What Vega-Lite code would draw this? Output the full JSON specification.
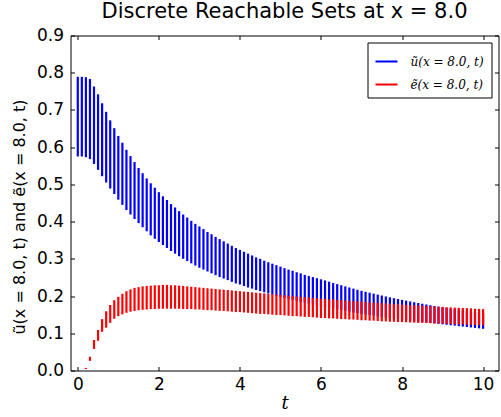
{
  "$schema": "https://vega.github.io/schema/vega-lite/v6.json",
  "width": 428,
  "height": 335,
  "autosize": "none",
  "padding": {"left": 70.5, "top": 35.5, "right": 2.5, "bottom": 46.5},
  "background": "white",
  "config": {
    "view": {"stroke": "black", "strokeWidth": 1},
    "axis": {
      "domain": false,
      "grid": false,
      "tickSize": -4,
      "tickColor": "black",
      "tickWidth": 1,
      "labelFont": "DejaVu Sans",
      "labelFontSize": 17,
      "labelColor": "black",
      "titleColor": "black",
      "titleFontWeight": "normal"
    }
  },
  "title": {
    "text": "Discrete Reachable Sets at x = 8.0",
    "font": "DejaVu Sans",
    "fontSize": 21,
    "fontWeight": "normal",
    "color": "black",
    "offset": 8,
    "dy": 3
  },
  "datasets": {
    "blue": [
      {"t":0.0,"s":"u","lo":0.575,"hi":0.789},{"t":0.1,"s":"u","lo":0.575,"hi":0.789},{"t":0.2,"s":"u","lo":0.573,"hi":0.788},{"t":0.3,"s":"u","lo":0.568,"hi":0.783},{"t":0.4,"s":"u","lo":0.555,"hi":0.763},
      {"t":0.5,"s":"u","lo":0.539,"hi":0.742},{"t":0.6,"s":"u","lo":0.522,"hi":0.718},{"t":0.7,"s":"u","lo":0.505,"hi":0.695},{"t":0.8,"s":"u","lo":0.489,"hi":0.672},{"t":0.9,"s":"u","lo":0.474,"hi":0.651},
      {"t":1.0,"s":"u","lo":0.459,"hi":0.630},{"t":1.1,"s":"u","lo":0.445,"hi":0.612},{"t":1.2,"s":"u","lo":0.431,"hi":0.593},{"t":1.3,"s":"u","lo":0.419,"hi":0.576},{"t":1.4,"s":"u","lo":0.407,"hi":0.560},
      {"t":1.5,"s":"u","lo":0.396,"hi":0.544},{"t":1.6,"s":"u","lo":0.385,"hi":0.530},{"t":1.7,"s":"u","lo":0.374,"hi":0.516},{"t":1.8,"s":"u","lo":0.363,"hi":0.503},{"t":1.9,"s":"u","lo":0.354,"hi":0.491},
      {"t":2.0,"s":"u","lo":0.345,"hi":0.479},{"t":2.1,"s":"u","lo":0.337,"hi":0.468},{"t":2.2,"s":"u","lo":0.329,"hi":0.458},{"t":2.3,"s":"u","lo":0.321,"hi":0.447},{"t":2.4,"s":"u","lo":0.314,"hi":0.438},
      {"t":2.5,"s":"u","lo":0.307,"hi":0.428},{"t":2.6,"s":"u","lo":0.300,"hi":0.419},{"t":2.7,"s":"u","lo":0.294,"hi":0.411},{"t":2.8,"s":"u","lo":0.288,"hi":0.402},{"t":2.9,"s":"u","lo":0.282,"hi":0.394},
      {"t":3.0,"s":"u","lo":0.276,"hi":0.387},{"t":3.1,"s":"u","lo":0.271,"hi":0.380},{"t":3.2,"s":"u","lo":0.266,"hi":0.372},{"t":3.3,"s":"u","lo":0.261,"hi":0.366},{"t":3.4,"s":"u","lo":0.256,"hi":0.359},
      {"t":3.5,"s":"u","lo":0.251,"hi":0.353},{"t":3.6,"s":"u","lo":0.247,"hi":0.347},{"t":3.7,"s":"u","lo":0.243,"hi":0.341},{"t":3.8,"s":"u","lo":0.238,"hi":0.335},{"t":3.9,"s":"u","lo":0.234,"hi":0.329},
      {"t":4.0,"s":"u","lo":0.231,"hi":0.324},{"t":4.1,"s":"u","lo":0.227,"hi":0.319},{"t":4.2,"s":"u","lo":0.223,"hi":0.314},{"t":4.3,"s":"u","lo":0.220,"hi":0.309},{"t":4.4,"s":"u","lo":0.216,"hi":0.304},
      {"t":4.5,"s":"u","lo":0.213,"hi":0.300},{"t":4.6,"s":"u","lo":0.210,"hi":0.295},{"t":4.7,"s":"u","lo":0.207,"hi":0.291},{"t":4.8,"s":"u","lo":0.204,"hi":0.287},{"t":4.9,"s":"u","lo":0.201,"hi":0.283},
      {"t":5.0,"s":"u","lo":0.198,"hi":0.279},{"t":5.1,"s":"u","lo":0.195,"hi":0.275},{"t":5.2,"s":"u","lo":0.192,"hi":0.271},{"t":5.3,"s":"u","lo":0.190,"hi":0.268},{"t":5.4,"s":"u","lo":0.187,"hi":0.264},
      {"t":5.5,"s":"u","lo":0.184,"hi":0.261},{"t":5.6,"s":"u","lo":0.182,"hi":0.257},{"t":5.7,"s":"u","lo":0.180,"hi":0.254},{"t":5.8,"s":"u","lo":0.177,"hi":0.251},{"t":5.9,"s":"u","lo":0.175,"hi":0.248},
      {"t":6.0,"s":"u","lo":0.172,"hi":0.245},{"t":6.1,"s":"u","lo":0.170,"hi":0.242},{"t":6.2,"s":"u","lo":0.168,"hi":0.2385},{"t":6.3,"s":"u","lo":0.166,"hi":0.235},{"t":6.4,"s":"u","lo":0.164,"hi":0.232},
      {"t":6.5,"s":"u","lo":0.162,"hi":0.229},{"t":6.6,"s":"u","lo":0.160,"hi":0.226},{"t":6.7,"s":"u","lo":0.158,"hi":0.223},{"t":6.8,"s":"u","lo":0.156,"hi":0.220},{"t":6.9,"s":"u","lo":0.154,"hi":0.217},
      {"t":7.0,"s":"u","lo":0.152,"hi":0.214},{"t":7.1,"s":"u","lo":0.1505,"hi":0.2115},{"t":7.2,"s":"u","lo":0.149,"hi":0.209},{"t":7.3,"s":"u","lo":0.147,"hi":0.2065},{"t":7.4,"s":"u","lo":0.1455,"hi":0.204},
      {"t":7.5,"s":"u","lo":0.144,"hi":0.2015},{"t":7.6,"s":"u","lo":0.142,"hi":0.199},{"t":7.7,"s":"u","lo":0.141,"hi":0.1966},{"t":7.8,"s":"u","lo":0.139,"hi":0.1942},{"t":7.9,"s":"u","lo":0.138,"hi":0.192},
      {"t":8.0,"s":"u","lo":0.1366,"hi":0.1898},{"t":8.1,"s":"u","lo":0.135,"hi":0.1876},{"t":8.2,"s":"u","lo":0.134,"hi":0.1855},{"t":8.3,"s":"u","lo":0.1326,"hi":0.1834},{"t":8.4,"s":"u","lo":0.131,"hi":0.1813},
      {"t":8.5,"s":"u","lo":0.130,"hi":0.1793},{"t":8.6,"s":"u","lo":0.1288,"hi":0.1773},{"t":8.7,"s":"u","lo":0.1276,"hi":0.1754},{"t":8.8,"s":"u","lo":0.1264,"hi":0.1735},{"t":8.9,"s":"u","lo":0.1252,"hi":0.1717},
      {"t":9.0,"s":"u","lo":0.124,"hi":0.170},{"t":9.1,"s":"u","lo":0.1228,"hi":0.1683},{"t":9.2,"s":"u","lo":0.1216,"hi":0.1666},{"t":9.3,"s":"u","lo":0.1204,"hi":0.165},{"t":9.4,"s":"u","lo":0.1192,"hi":0.1634},
      {"t":9.5,"s":"u","lo":0.118,"hi":0.1618},{"t":9.6,"s":"u","lo":0.1168,"hi":0.1603},{"t":9.7,"s":"u","lo":0.1156,"hi":0.1588},{"t":9.8,"s":"u","lo":0.1144,"hi":0.1573},{"t":9.9,"s":"u","lo":0.1132,"hi":0.1559},
      {"t":10.0,"s":"u","lo":0.112,"hi":0.1545}
    ],
    "red": [
      {"t":0.2,"s":"e","lo":0.004,"hi":0.007},{"t":0.3,"s":"e","lo":0.026,"hi":0.037},{"t":0.4,"s":"e","lo":0.058,"hi":0.082},
      {"t":0.5,"s":"e","lo":0.080,"hi":0.109},{"t":0.6,"s":"e","lo":0.104,"hi":0.138},{"t":0.7,"s":"e","lo":0.115,"hi":0.159},{"t":0.8,"s":"e","lo":0.128,"hi":0.176},{"t":0.9,"s":"e","lo":0.139,"hi":0.189},
      {"t":1.0,"s":"e","lo":0.146,"hi":0.198},{"t":1.1,"s":"e","lo":0.151,"hi":0.206},{"t":1.2,"s":"e","lo":0.155,"hi":0.213},{"t":1.3,"s":"e","lo":0.158,"hi":0.218},{"t":1.4,"s":"e","lo":0.160,"hi":0.222},
      {"t":1.5,"s":"e","lo":0.162,"hi":0.224},{"t":1.6,"s":"e","lo":0.163,"hi":0.226},{"t":1.7,"s":"e","lo":0.164,"hi":0.227},{"t":1.8,"s":"e","lo":0.165,"hi":0.228},{"t":1.9,"s":"e","lo":0.165,"hi":0.229},
      {"t":2.0,"s":"e","lo":0.166,"hi":0.229},{"t":2.1,"s":"e","lo":0.166,"hi":0.230},{"t":2.2,"s":"e","lo":0.166,"hi":0.230},{"t":2.3,"s":"e","lo":0.166,"hi":0.229},{"t":2.4,"s":"e","lo":0.166,"hi":0.229},
      {"t":2.5,"s":"e","lo":0.166,"hi":0.228},{"t":2.6,"s":"e","lo":0.165,"hi":0.227},{"t":2.7,"s":"e","lo":0.165,"hi":0.226},{"t":2.8,"s":"e","lo":0.165,"hi":0.225},{"t":2.9,"s":"e","lo":0.164,"hi":0.224},
      {"t":3.0,"s":"e","lo":0.164,"hi":0.223},{"t":3.1,"s":"e","lo":0.163,"hi":0.222},{"t":3.2,"s":"e","lo":0.162,"hi":0.221},{"t":3.3,"s":"e","lo":0.162,"hi":0.220},{"t":3.4,"s":"e","lo":0.161,"hi":0.219},
      {"t":3.5,"s":"e","lo":0.160,"hi":0.218},{"t":3.6,"s":"e","lo":0.160,"hi":0.217},{"t":3.7,"s":"e","lo":0.159,"hi":0.216},{"t":3.8,"s":"e","lo":0.158,"hi":0.215},{"t":3.9,"s":"e","lo":0.157,"hi":0.214},
      {"t":4.0,"s":"e","lo":0.157,"hi":0.213},{"t":4.1,"s":"e","lo":0.156,"hi":0.212},{"t":4.2,"s":"e","lo":0.155,"hi":0.211},{"t":4.3,"s":"e","lo":0.154,"hi":0.210},{"t":4.4,"s":"e","lo":0.153,"hi":0.209},
      {"t":4.5,"s":"e","lo":0.152,"hi":0.208},{"t":4.6,"s":"e","lo":0.152,"hi":0.207},{"t":4.7,"s":"e","lo":0.151,"hi":0.206},{"t":4.8,"s":"e","lo":0.150,"hi":0.205},{"t":4.9,"s":"e","lo":0.149,"hi":0.204},
      {"t":5.0,"s":"e","lo":0.149,"hi":0.203},{"t":5.1,"s":"e","lo":0.148,"hi":0.202},{"t":5.2,"s":"e","lo":0.147,"hi":0.201},{"t":5.3,"s":"e","lo":0.146,"hi":0.200},{"t":5.4,"s":"e","lo":0.146,"hi":0.199},
      {"t":5.5,"s":"e","lo":0.145,"hi":0.198},{"t":5.6,"s":"e","lo":0.144,"hi":0.197},{"t":5.7,"s":"e","lo":0.144,"hi":0.196},{"t":5.8,"s":"e","lo":0.143,"hi":0.195},{"t":5.9,"s":"e","lo":0.142,"hi":0.194},
      {"t":6.0,"s":"e","lo":0.141,"hi":0.193},{"t":6.1,"s":"e","lo":0.141,"hi":0.192},{"t":6.2,"s":"e","lo":0.140,"hi":0.191},{"t":6.3,"s":"e","lo":0.140,"hi":0.191},{"t":6.4,"s":"e","lo":0.139,"hi":0.190},
      {"t":6.5,"s":"e","lo":0.138,"hi":0.189},{"t":6.6,"s":"e","lo":0.138,"hi":0.188},{"t":6.7,"s":"e","lo":0.137,"hi":0.187},{"t":6.8,"s":"e","lo":0.137,"hi":0.186},{"t":6.9,"s":"e","lo":0.136,"hi":0.186},
      {"t":7.0,"s":"e","lo":0.135,"hi":0.185},{"t":7.1,"s":"e","lo":0.135,"hi":0.184},{"t":7.2,"s":"e","lo":0.134,"hi":0.183},{"t":7.3,"s":"e","lo":0.134,"hi":0.182},{"t":7.4,"s":"e","lo":0.133,"hi":0.182},
      {"t":7.5,"s":"e","lo":0.132,"hi":0.181},{"t":7.6,"s":"e","lo":0.132,"hi":0.180},{"t":7.7,"s":"e","lo":0.131,"hi":0.179},{"t":7.8,"s":"e","lo":0.131,"hi":0.178},{"t":7.9,"s":"e","lo":0.130,"hi":0.178},
      {"t":8.0,"s":"e","lo":0.130,"hi":0.177},{"t":8.1,"s":"e","lo":0.1295,"hi":0.176},{"t":8.2,"s":"e","lo":0.129,"hi":0.1755},{"t":8.3,"s":"e","lo":0.1285,"hi":0.175},{"t":8.4,"s":"e","lo":0.128,"hi":0.1745},
      {"t":8.5,"s":"e","lo":0.128,"hi":0.174},{"t":8.6,"s":"e","lo":0.1275,"hi":0.173},{"t":8.7,"s":"e","lo":0.127,"hi":0.1725},{"t":8.8,"s":"e","lo":0.1265,"hi":0.172},{"t":8.9,"s":"e","lo":0.126,"hi":0.171},
      {"t":9.0,"s":"e","lo":0.126,"hi":0.171},{"t":9.1,"s":"e","lo":0.1255,"hi":0.170},{"t":9.2,"s":"e","lo":0.125,"hi":0.1695},{"t":9.3,"s":"e","lo":0.1245,"hi":0.169},{"t":9.4,"s":"e","lo":0.124,"hi":0.1685},
      {"t":9.5,"s":"e","lo":0.124,"hi":0.168},{"t":9.6,"s":"e","lo":0.1235,"hi":0.1675},{"t":9.7,"s":"e","lo":0.123,"hi":0.167},{"t":9.8,"s":"e","lo":0.1225,"hi":0.166},{"t":9.9,"s":"e","lo":0.122,"hi":0.1655},
      {"t":10.0,"s":"e","lo":0.122,"hi":0.165}
    ]
  },
  "layer": [
    {
      "data": {"name": "blue"},
      "mark": {"type": "rule", "strokeWidth": 2.2},
      "encoding": {
        "x": {
          "field": "t", "type": "quantitative",
          "scale": {"domain": [-0.18, 10.38], "nice": false, "zero": false},
          "axis": {"orient": "bottom", "values": [0, 2, 4, 6, 8, 10], "labelPadding": 10, "title": "t", "titleFont": "DejaVu Serif", "titleFontStyle": "italic", "titleFontSize": 18, "titlePadding": 2, "labelFlush": false}
        },
        "y": {
          "field": "lo", "type": "quantitative",
          "scale": {"domain": [0, 0.9], "nice": false},
          "axis": {"orient": "left", "values": [0, 0.1, 0.2, 0.3, 0.4, 0.5, 0.6, 0.7, 0.8, 0.9], "format": ".1f", "labelPadding": 11, "title": "ũ(x = 8.0, t) and ẽ(x = 8.0, t)", "titleFont": "DejaVu Sans", "titleFontSize": 16, "titlePadding": 9, "titleY": 181, "labelFlush": false}
        },
        "y2": {"field": "hi"},
        "color": {
          "field": "s", "type": "nominal",
          "scale": {"domain": ["u", "e"], "range": ["#0000ff", "#ff0000"]},
          "legend": {
            "orient": "top-right", "offset": 7, "title": null,
            "labelExpr": "datum.value == 'u' ? 'ũ(x = 8.0, t)' : 'ẽ(x = 8.0, t)'",
            "labelFont": "DejaVu Serif", "labelFontStyle": "italic", "labelFontSize": 12, "labelColor": "black", "labelOffset": 12,
            "symbolType": "stroke", "symbolSize": 484, "symbolStrokeWidth": 2,
            "strokeColor": "black", "fillColor": "white", "padding": 7, "rowPadding": 5, "cornerRadius": 0
          }
        }
      }
    },
    {
      "data": {"name": "red"},
      "mark": {"type": "rule", "strokeWidth": 2.2},
      "encoding": {
        "x": {
          "field": "t", "type": "quantitative",
          "scale": {"domain": [-0.18, 10.38], "nice": false, "zero": false},
          "axis": {"orient": "top", "values": [0, 2, 4, 6, 8, 10], "labels": false, "title": null}
        },
        "y": {
          "field": "lo", "type": "quantitative",
          "scale": {"domain": [0, 0.9], "nice": false},
          "axis": {"orient": "right", "values": [0, 0.1, 0.2, 0.3, 0.4, 0.5, 0.6, 0.7, 0.8, 0.9], "labels": false, "title": null}
        },
        "y2": {"field": "hi"},
        "color": {"field": "s", "type": "nominal", "scale": {"domain": ["u", "e"], "range": ["#0000ff", "#ff0000"]}}
      }
    }
  ],
  "resolve": {"axis": {"x": "independent", "y": "independent"}}
}
